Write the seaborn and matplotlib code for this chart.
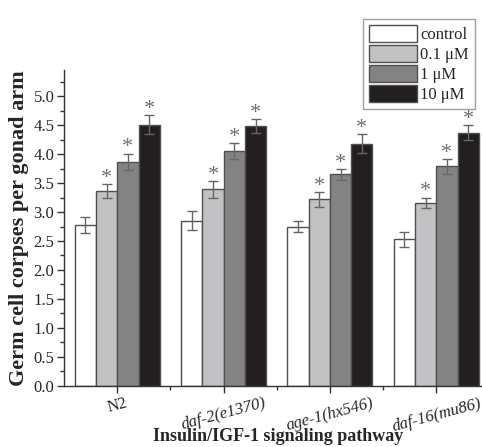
import numpy as np
import pandas as pd
import matplotlib
matplotlib.use("Agg")
import matplotlib.pyplot as plt
import seaborn as sns
from matplotlib.ticker import MultipleLocator, FixedLocator

strains = ["N2", "daf-2(e1370)", "age-1(hx546)", "daf-16(mu86)"]
doses = ["control", "0.1 μM", "1 μM", "10 μM"]
control = [2.77, 2.85, 2.75, 2.53]
dose_01 = [3.37, 3.39, 3.22, 3.16]
dose_1 = [3.87, 4.05, 3.65, 3.79]
dose_10 = [4.51, 4.48, 4.18, 4.37]
err_control = [0.14, 0.16, 0.09, 0.13]
err_01 = [0.12, 0.15, 0.13, 0.09]
err_1 = [0.14, 0.14, 0.09, 0.13]
err_10 = [0.16, 0.12, 0.16, 0.13]
significant = [False, True, True, True]

values = [control, dose_01, dose_1, dose_10]
errors = [err_control, err_01, err_1, err_10]

rows = []
for d, vals in zip(doses, values):
    for s, v in zip(strains, vals):
        rows.append({"strain": s, "dose": d, "value": v})
df = pd.DataFrame(rows)

sns.set_style("ticks")
plt.rcParams["font.family"] = ["Liberation Serif", "DejaVu Serif"]

colors = ["#ffffff", "#c2c2c4", "#838385", "#231f20"]

fig = plt.figure(figsize=(4.82, 4.47), dpi=100)
ax = fig.add_axes([0.133, 0.137, 0.867, 0.706])

sns.barplot(data=df, x="strain", y="value", hue="dose", order=strains,
            hue_order=doses, palette=colors, errorbar=None, width=0.8,
            edgecolor="#505050", linewidth=1.0, ax=ax, saturation=1)

bar_containers = list(ax.containers)[:len(doses)]
for ci, cont in enumerate(bar_containers):
    for bi, bar in enumerate(cont.patches):
        x = bar.get_x() + bar.get_width() / 2
        h = bar.get_height()
        e = errors[ci][bi]
        ax.errorbar(x, h, yerr=e, fmt="none", ecolor="#666666",
                    elinewidth=1.0, capsize=3.5, capthick=1.0, zorder=5)
        if significant[ci]:
            ax.text(x, h + e + 0.02, "*", ha="center", va="baseline",
                    fontsize=16, color="#707070")

ax.set_ylim(0, 5.45)
ax.set_xlim(-0.5, 3.43)
ax.yaxis.set_minor_locator(MultipleLocator(0.25))
ax.xaxis.set_minor_locator(FixedLocator([0.5, 1.5, 2.5]))
ax.set_yticks(np.arange(0, 5.01, 0.5))
ax.set_yticklabels([f"{v:.1f}" for v in np.arange(0, 5.01, 0.5)])
ax.tick_params(axis="both", which="major", length=5, width=1, labelsize=12,
               color="#333333", pad=2)
ax.tick_params(axis="both", which="minor", length=3, width=1, color="#333333")
for lab in ax.get_xticklabels():
    lab.set_rotation(15)
    lab.set_ha("center")
    if lab.get_text() != "N2":
        lab.set_fontstyle("italic")

sns.despine(ax=ax, top=True, right=True)
for sp in ["left", "bottom"]:
    ax.spines[sp].set_linewidth(1.0)
    ax.spines[sp].set_color("#333333")

ax.set_ylabel("Germ cell corpses per gonad arm", fontsize=16,
              fontweight="bold", labelpad=3)
ax.set_xlabel("Insulin/IGF-1 signaling pathway", fontsize=13,
              fontweight="bold")
ax.xaxis.set_label_coords(0.512, -0.133)

leg = ax.legend(loc="upper right", bbox_to_anchor=(0.985, 0.958),
                bbox_transform=fig.transFigure, frameon=True,
                fancybox=False, edgecolor="#888888", fontsize=12,
                handlelength=2.9, handleheight=1.25, handletextpad=0.2,
                labelspacing=0.1, borderpad=0.35, borderaxespad=0, title=None)
leg.get_frame().set_linewidth(1.0)

fig.savefig("out.png", dpi=100)
